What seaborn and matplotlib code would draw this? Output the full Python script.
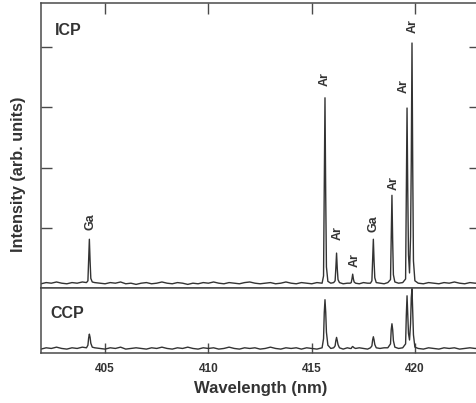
import numpy as np
import pandas as pd
import matplotlib
matplotlib.use("Agg")
import matplotlib.pyplot as plt
import seaborn as sns

# ---------------- data ----------------
wavelength = [
    401.90, 402.15, 402.40, 402.65, 402.90, 403.15, 403.40, 403.65, 403.90, 404.10,
    404.17, 404.205, 404.24, 404.275, 404.31, 404.38,
    404.50, 404.75, 405.00, 405.25, 405.50, 405.75, 406.00, 406.25, 406.50, 406.75,
    407.00, 407.25, 407.50, 407.75, 408.00, 408.25, 408.50, 408.75, 409.00, 409.25,
    409.50, 409.75, 410.00, 410.25, 410.50, 410.75, 411.00, 411.25, 411.50, 411.75,
    412.00, 412.25, 412.50, 412.75, 413.00, 413.25, 413.50, 413.75, 414.00, 414.25,
    414.50, 414.75, 415.00, 415.25, 415.50,
    415.57, 415.605, 415.64, 415.675, 415.71, 415.78,
    415.92, 416.06,
    416.13, 416.165, 416.20, 416.235, 416.27, 416.34,
    416.52, 416.72, 416.86,
    416.91, 416.945, 416.98, 417.015, 417.05, 417.12,
    417.30, 417.50, 417.70, 417.84,
    417.91, 417.945, 417.98, 418.015, 418.05, 418.12,
    418.30, 418.50, 418.68,
    418.81, 418.845, 418.88, 418.915, 418.95, 419.02,
    419.20, 419.40,
    419.54, 419.575, 419.61, 419.645, 419.68, 419.73, 419.78, 419.815, 419.85, 419.885, 419.92, 419.99,
    420.15, 420.40, 420.65, 420.90, 421.15, 421.40, 421.65, 421.90, 422.15, 422.40, 422.65, 422.90, 423.15,
]

icp = [
    0.07, 0.09, 0.08, 0.10, 0.08, 0.07, 0.09, 0.08, 0.10, 0.09,
    0.12, 0.45, 0.81, 0.45, 0.16, 0.10,
    0.09, 0.08, 0.07, 0.09, 0.08, 0.10, 0.07, 0.08, 0.06, 0.08,
    0.09, 0.07, 0.08, 0.10, 0.08, 0.07, 0.09, 0.08, 0.06, 0.08,
    0.07, 0.09, 0.08, 0.10, 0.08, 0.07, 0.09, 0.08, 0.07, 0.09,
    0.10, 0.08, 0.07, 0.08, 0.09, 0.07, 0.08, 0.10, 0.08, 0.07,
    0.09, 0.08, 0.07, 0.09, 0.08,
    0.20, 1.60, 3.16, 1.55, 0.35, 0.11,
    0.08, 0.09,
    0.12, 0.33, 0.58, 0.32, 0.14, 0.09,
    0.07, 0.08, 0.08,
    0.09, 0.15, 0.23, 0.15, 0.10, 0.08,
    0.07, 0.09, 0.08, 0.08,
    0.12, 0.45, 0.81, 0.44, 0.17, 0.09,
    0.08, 0.07, 0.09,
    0.14, 0.80, 1.54, 0.78, 0.22, 0.10,
    0.08, 0.09,
    0.15, 1.55, 2.99, 1.60, 0.55, 0.25, 0.85, 2.10, 4.07, 2.00, 0.45, 0.12,
    0.08, 0.07, 0.09, 0.08, 0.07, 0.09, 0.08, 0.10, 0.08, 0.07, 0.09, 0.08, 0.08,
]

ccp = [
    0.06, 0.08, 0.07, 0.09, 0.07, 0.06, 0.08, 0.07, 0.09, 0.08,
    0.12, 0.23, 0.29, 0.24, 0.15, 0.09,
    0.08, 0.07, 0.06, 0.08, 0.07, 0.09, 0.06, 0.07, 0.08, 0.07,
    0.06, 0.08, 0.07, 0.09, 0.07, 0.06, 0.08, 0.07, 0.09, 0.07,
    0.06, 0.08, 0.07, 0.08, 0.06, 0.07, 0.09, 0.07, 0.06, 0.08,
    0.07, 0.08, 0.06, 0.07, 0.09, 0.07, 0.06, 0.08, 0.07, 0.08,
    0.06, 0.08, 0.07, 0.06, 0.08,
    0.22, 0.62, 0.82, 0.63, 0.32, 0.12,
    0.07, 0.08,
    0.11, 0.19, 0.24, 0.19, 0.13, 0.08,
    0.06, 0.08, 0.07,
    0.07, 0.09, 0.10, 0.09, 0.08, 0.07,
    0.08, 0.07, 0.06, 0.08,
    0.11, 0.20, 0.25, 0.20, 0.13, 0.08,
    0.07, 0.08, 0.08,
    0.14, 0.36, 0.45, 0.36, 0.19, 0.09,
    0.07, 0.08,
    0.14, 0.58, 0.88, 0.60, 0.30, 0.20, 0.45, 0.85, 0.99, 0.66, 0.28, 0.09,
    0.07, 0.06, 0.08, 0.07, 0.06, 0.08, 0.07, 0.08, 0.06, 0.07, 0.08, 0.07, 0.07,
]

line_labels = ["Ga", "Ar", "Ar", "Ar", "Ga", "Ar", "Ar", "Ar"]
label_x = [404.30, 415.64, 416.27, 417.10, 418.01, 418.95, 419.44, 419.90]
label_y = [0.96, 3.35, 0.80, 0.35, 0.93, 1.63, 3.24, 4.23]

x_ticks = [405, 410, 415, 420]
icp_yticks = [0, 1, 2, 3, 4]

# ---------------- styling ----------------
sns.set_style("ticks")
plt.rcParams["font.family"] = ["Liberation Sans", "DejaVu Sans"]
ink = "#333333"
spine_c = "#4a4a4a"

W, H = 476, 403
fig = plt.figure(figsize=(W / 100, H / 100), dpi=100)

left = 41 / W
width = (480 - 41) / W
ax_top = fig.add_axes([left, (H - 288) / H, width, (288 - 3.3) / H])
ax_bot = fig.add_axes([left, (H - 353) / H, width, 65 / H])

df = pd.DataFrame({"wavelength": wavelength, "ICP": icp, "CCP": ccp})

sns.lineplot(data=df, x="wavelength", y="ICP", ax=ax_top, color=ink, lw=1.0,
             sort=False, estimator=None)
sns.lineplot(data=df, x="wavelength", y="CCP", ax=ax_bot, color=ink, lw=1.0,
             sort=False, estimator=None)

xlim = (401.9, 423.14)
for ax in (ax_top, ax_bot):
    ax.set_xlim(*xlim)
    ax.set_xlabel("")
    ax.set_ylabel("")
    ax.set_xticks(x_ticks)
    for s in ax.spines.values():
        s.set_visible(True)
        s.set_color(spine_c)
        s.set_linewidth(1.1)

ax_top.tick_params(axis="both", direction="in", length=8, width=1.0,
                   color=spine_c, top=True, bottom=False, left=True, right=True,
                   labelbottom=False, labelleft=False)
ax_bot.tick_params(axis="x", direction="in", length=7, width=1.0,
                   color=spine_c, top=False, bottom=True,
                   labelsize=8.5, labelcolor=ink, pad=7)

ax_top.set_ylim(0, 4.73)
ax_top.set_yticks(icp_yticks)

ax_bot.set_ylim(0, 1.0)
ax_bot.set_yticks([])
for t in ax_bot.get_xticklabels():
    t.set_fontweight("bold")

for lab, lx, ly in zip(line_labels, label_x, label_y):
    ax_top.text(lx, ly, lab, rotation=90, ha="center", va="bottom",
                fontsize=9, fontweight="bold", color=ink)

ax_top.text(0.032, 0.906, "ICP", transform=ax_top.transAxes, ha="left",
            va="center", fontsize=11.5, fontweight="bold", color=ink)
ax_bot.text(0.0205, 0.615, "CCP", transform=ax_bot.transAxes, ha="left",
            va="center", fontsize=11.5, fontweight="bold", color=ink)

fig.text(260.4 / W, 1 - 389 / H, "Wavelength (nm)", ha="center", va="center",
         fontsize=12, fontweight="bold", color=ink)
fig.text(18.5 / W, 1 - 174 / H, "Intensity (arb. units)", rotation=90,
         ha="center", va="center", fontsize=11.7, fontweight="bold", color=ink)

fig.savefig("out.png", dpi=100)
